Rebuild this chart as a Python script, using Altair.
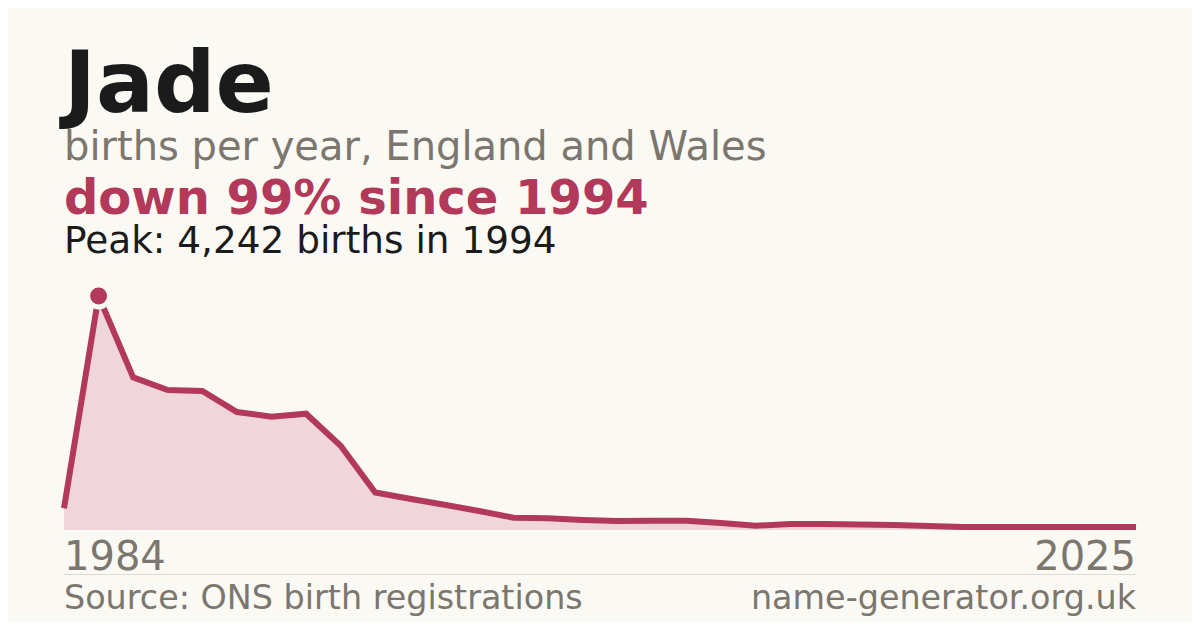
import altair as alt
import pandas as pd

# Data
index = list(range(32))
births = [393, 4242, 2768, 2538, 2520, 2139, 2054, 2108, 1528, 680,
          567, 459, 344, 223, 212, 181, 163, 169, 169, 127,
          78, 109, 109, 100, 91, 73, 54, 54, 54, 54, 54, 54]
x_labels = ["1984", "2025"]
peak_index = [1]
peak_value = [4242]

title_text = "Jade"
subtitle_text = "births per year, England and Wales"
change_text = "down 99% since 1994"
peak_text = "Peak: 4,242 births in 1994"
source_text = "Source: ONS birth registrations"
site_text = "name-generator.org.uk"

BG = "#faf9f4"
RED = "#b3395a"
FILL = "#f0d5db"
GRAY = "#7b766e"
DARK = "#1b1b1b"
FONT = "DejaVu Sans"

W, H = 1072, 234

df = pd.DataFrame({"i": index, "v": births})
peak_df = pd.DataFrame({"i": peak_index, "v": peak_value})

xs = alt.Scale(domain=[0, 31], nice=False, zero=False)
ys = alt.Scale(domain=[0, 4242], nice=False)

base = alt.Chart(df).encode(
    x=alt.X("i:Q", scale=xs, axis=None),
    y=alt.Y("v:Q", scale=ys, axis=None),
)

area = base.mark_area(color=FILL, opacity=1)
line = base.mark_line(color=RED, strokeWidth=6)
peak = alt.Chart(peak_df).mark_point(
    filled=True, shape="circle", size=480, color=RED,
    stroke=BG, strokeWidth=5, opacity=1, strokeOpacity=1
).encode(
    x=alt.X("i:Q", scale=xs, axis=None),
    y=alt.Y("v:Q", scale=ys, axis=None),
)


def txt(s, x, y, size, color, weight="normal", align="left"):
    return alt.Chart(pd.DataFrame({"t": [s]})).mark_text(
        font=FONT, fontSize=size, fontWeight=weight, color=color,
        align=align, baseline="alphabetic"
    ).encode(text="t:N", x=alt.value(x), y=alt.value(y))


texts = [
    txt(title_text, 0, -184.5, 86, DARK, "bold"),
    txt(subtitle_text, 0, -136, 40, GRAY),
    txt(change_text, 0, -82, 48, RED, "bold"),
    txt(peak_text, 0, -42.7, 37.4, DARK),
    txt(x_labels[0], 0, 274, 40, GRAY),
    txt(x_labels[1], W, 274, 40, GRAY, align="right"),
    txt(source_text, 0, 313.3, 33.4, GRAY),
    txt(site_text, W, 313.3, 33.4, GRAY, align="right"),
]

sep = alt.Chart(pd.DataFrame({"a": [0]})).mark_rule(color="#dedbd3", strokeWidth=1).encode(
    x=alt.value(0), x2=alt.value(W), y=alt.value(278.5)
)

chart = alt.layer(area, line, peak, sep, *texts).properties(
    width=W, height=H,
    autosize=alt.AutoSizeParams(type="none"),
    padding={"left": 56, "top": 288, "right": 56, "bottom": 92},
    background=BG,
).configure_view(stroke=None)

chart.save("out.html", embed_options={"renderer": "svg", "actions": False})
